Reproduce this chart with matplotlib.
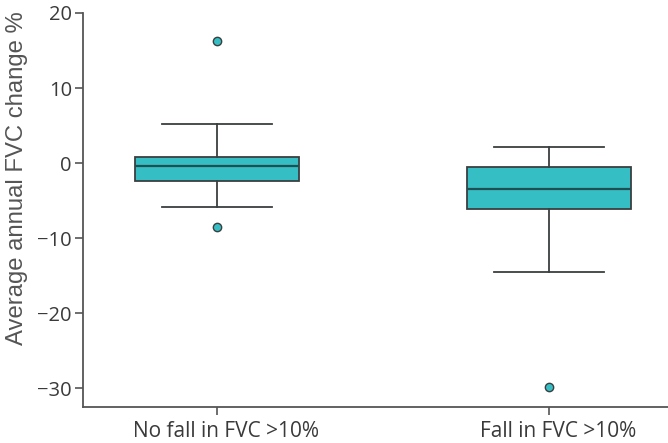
import matplotlib
matplotlib.use("Agg")
import matplotlib.pyplot as plt
import matplotlib.transforms as mtransforms

# box statistics
labels = ["No fall in FVC >10%", "Fall in FVC >10%"]
whislo = [-5.9, -14.5]
q1 = [-2.35, -6.15]
med = [-0.35, -3.5]
q3 = [0.85, -0.5]
whishi = [5.25, 2.1]
fliers = [[16.3, -8.5], [-29.9]]
yticks = [20, 10, 0, -10, -20, -30]

FILL = "#35bec4"
EDGE = "#3a3f40"
TXT = "#3a3a3a"

plt.rcParams["font.family"] = ["Open Sans", "DejaVu Sans"]

fig = plt.figure(figsize=(6.68, 4.43), dpi=100)
ax = fig.add_axes([0.1243, 0.0813, 0.8757, 0.8894])

stats = [dict(label=l, whislo=a, q1=b, med=c, q3=d, whishi=e, fliers=f)
         for l, a, b, c, d, e, f in zip(labels, whislo, q1, med, q3, whishi, fliers)]
ax.bxp(stats, positions=[1, 2], widths=0.495, patch_artist=True, capwidths=0.33,
       boxprops=dict(facecolor=FILL, edgecolor=EDGE, lw=1.3),
       medianprops=dict(color="#1f4f52", lw=1.6),
       whiskerprops=dict(color=EDGE, lw=1.3),
       capprops=dict(color=EDGE, lw=1.3),
       flierprops=dict(marker="o", markerfacecolor=FILL, markeredgecolor=EDGE,
                       markersize=6, markeredgewidth=1.0))

ax.set_xlim(0.597, 2.358)
ax.set_ylim(-32.5, 20)
ax.set_yticks(yticks)
ax.set_yticklabels([str(v).replace("-", "\u2212") for v in yticks])
for s in ("top", "right"):
    ax.spines[s].set_visible(False)
for s in ("left", "bottom"):
    ax.spines[s].set_color("#555555")
    ax.spines[s].set_linewidth(1.3)
ax.tick_params(axis="both", colors="#555555", labelcolor=TXT, length=6, width=1.2)
ax.tick_params(axis="y", pad=2, labelsize=14.5)
ax.tick_params(axis="x", pad=4, labelsize=15)

# category labels sit a little right of their ticks in the original
shift = mtransforms.ScaledTranslation(0.09, 0, fig.dpi_scale_trans)
for lab in ax.get_xticklabels():
    lab.set_transform(lab.get_transform() + shift)

# y label sits above the axis centre in the original
fig.text(17 / 668, 1 - 178 / 443, "Average annual FVC change %", rotation=90,
         ha="center", va="center", fontsize=17.2, color="#555555",
         family=["Liberation Sans", "DejaVu Sans"])

fig.savefig("out.png", dpi=100)
